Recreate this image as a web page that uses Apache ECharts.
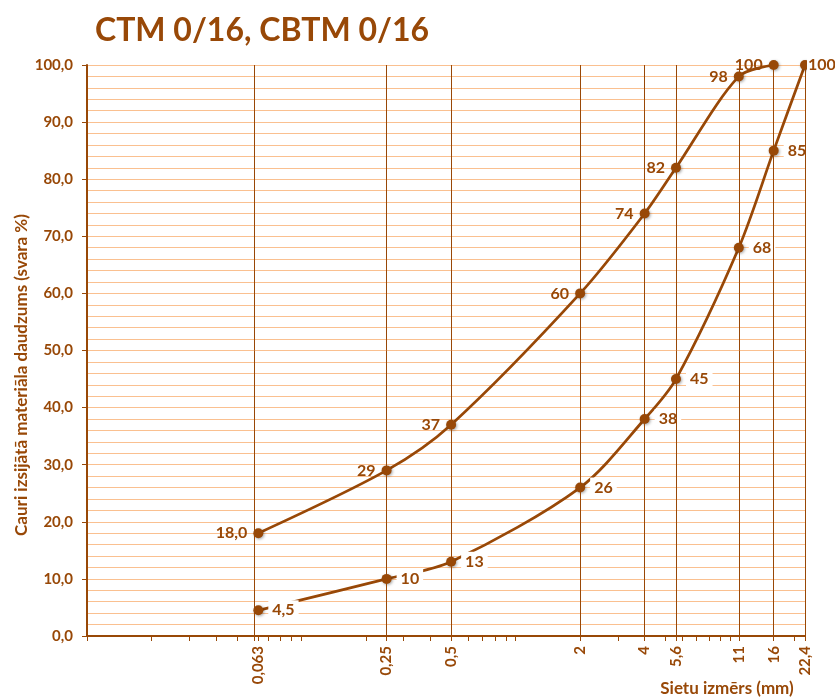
<!DOCTYPE html>
<html>
<head>
<meta charset="utf-8">
<script src="https://cdn.jsdelivr.net/npm/echarts@6/dist/echarts.min.js"></script>
<style>
  html, body { margin: 0; padding: 0; background: #fff; }
  #chart { width: 835px; height: 699px; }
</style>
</head>
<body>
<div id="chart"></div>
<script>
// Sieve sizes (mm) shown on the logarithmic x axis
const sieveSizes = [0.063, 0.25, 0.5, 2, 4, 5.6, 11, 16, 22.4];
// Passing percentage for each grading curve
const ctmPassing  = [18.0, 29, 37, 60, 74, 82, 98, 100];
const cbtmPassing = [4.5, 10, 13, 26, 38, 45, 68, 85, 100];

const BROWN = '#984807';
const GRID = '#fac090';
const FONT = 'Lato, "Open Sans", sans-serif';

// log-axis minor tick positions (2..9 × 10^k) plus the sieve sizes
const minorTicks = [];
[0.01, 0.1, 1, 10].forEach(function (d) {
  for (let k = 1; k <= 9; k++) {
    const v = +(k * d).toPrecision(3);
    if (v >= 0.01 && v <= 22.4) minorTicks.push(v);
  }
});
const tickValues = minorTicks.concat(sieveSizes).sort(function (a, b) { return a - b; });

const comma = function (v) { return String(v).replace('.', ','); };
const labelText = function (p) {
  return p.dataIndex === 0 ? comma(p.value[1].toFixed(1)) : comma(p.value[1]);
};
const pairs = function (ys) { return ys.map(function (y, i) { return [sieveSizes[i], y]; }); };

const markerStyle = {
  color: BROWN, shadowBlur: 3, shadowColor: 'rgba(0,0,0,0.35)', shadowOffsetX: 1, shadowOffsetY: 1
};

// the last point sits on the right edge: pull its label in a little
const cbtmData = pairs(cbtmPassing).map(function (pt, i, arr) {
  if (i < arr.length - 1) return pt;
  return { value: pt, label: { distance: 0, padding: [1, 1], offset: [-3, 0] } };
});

const chart = echarts.init(document.getElementById('chart'), null, { renderer: 'canvas' });

chart.setOption({
  animation: false,
  backgroundColor: '#fff',
  title: {
    text: 'CTM 0/16, CBTM 0/16',
    left: 257, top: 10, textAlign: 'center',
    textStyle: { color: BROWN, fontFamily: FONT, fontWeight: 'bold', fontSize: 32 }
  },
  graphic: [
    {
      type: 'text', x: 22, y: 375, rotation: Math.PI / 2,
      style: {
        text: 'Cauri izsijātā materiāla daudzums (svara %)',
        fill: BROWN, font: 'bold 17px ' + FONT, align: 'center', verticalAlign: 'middle'
      }
    },
    {
      type: 'text', x: 727, y: 689,
      style: {
        text: 'Sietu izmērs (mm)',
        fill: BROWN, font: 'bold 17px ' + FONT, align: 'center', verticalAlign: 'middle'
      }
    }
  ],
  grid: { left: 87, right: 30, top: 65, bottom: 63 },
  xAxis: {
    type: 'log', logBase: 10, min: 0.01, max: 22.4,
    axisLine: { show: true, onZero: false, lineStyle: { color: BROWN, width: 2 } },
    axisTick: { show: true, length: 5, customValues: tickValues, lineStyle: { color: BROWN, width: 1 } },
    axisLabel: {
      customValues: sieveSizes, rotate: 90, margin: 10,
      color: BROWN, fontFamily: FONT, fontWeight: 'bold', fontSize: 15,
      formatter: function (v) { return comma(+Number(v).toPrecision(4)); }
    },
    splitLine: { show: false }
  },
  yAxis: {
    type: 'value', min: 0, max: 100, interval: 10,
    axisLine: { show: true, lineStyle: { color: BROWN, width: 2 } },
    axisTick: { show: true, length: 5, lineStyle: { color: BROWN, width: 1 } },
    axisLabel: {
      margin: 14, color: BROWN, fontFamily: FONT, fontWeight: 'bold', fontSize: 15,
      formatter: function (v) { return v.toFixed(1).replace('.', ','); }
    },
    splitLine: { show: true, lineStyle: { color: GRID, width: 1 } },
    minorTick: { show: false, splitNumber: 5 },
    minorSplitLine: { show: true, lineStyle: { color: GRID, width: 1 } }
  },
  series: [
    {
      name: 'CTM 0/16',
      type: 'line',
      data: pairs(ctmPassing),
      smooth: 0.3,
      symbol: 'circle', symbolSize: 10,
      lineStyle: { color: BROWN, width: 2.75 },
      itemStyle: markerStyle,
      label: {
        show: true, position: 'left', distance: 6,
        color: BROWN, fontFamily: FONT, fontWeight: 'bold', fontSize: 16,
        formatter: labelText
      },
      markLine: {
        silent: true, symbol: 'none',
        label: { show: false },
        lineStyle: { color: BROWN, width: 1, type: 'solid' },
        data: sieveSizes.map(function (s) { return { xAxis: s }; })
      },
      z: 3
    },
    {
      name: 'CBTM 0/16',
      type: 'line',
      data: cbtmData,
      smooth: 0.3,
      symbol: 'circle', symbolSize: 10,
      lineStyle: { color: BROWN, width: 2.75 },
      itemStyle: markerStyle,
      label: {
        show: true, position: 'right', distance: 5,
        backgroundColor: '#fff', padding: [2, 4],
        color: BROWN, fontFamily: FONT, fontWeight: 'bold', fontSize: 16,
        formatter: labelText
      },
      z: 3
    }
  ]
});
</script>
</body>
</html>
